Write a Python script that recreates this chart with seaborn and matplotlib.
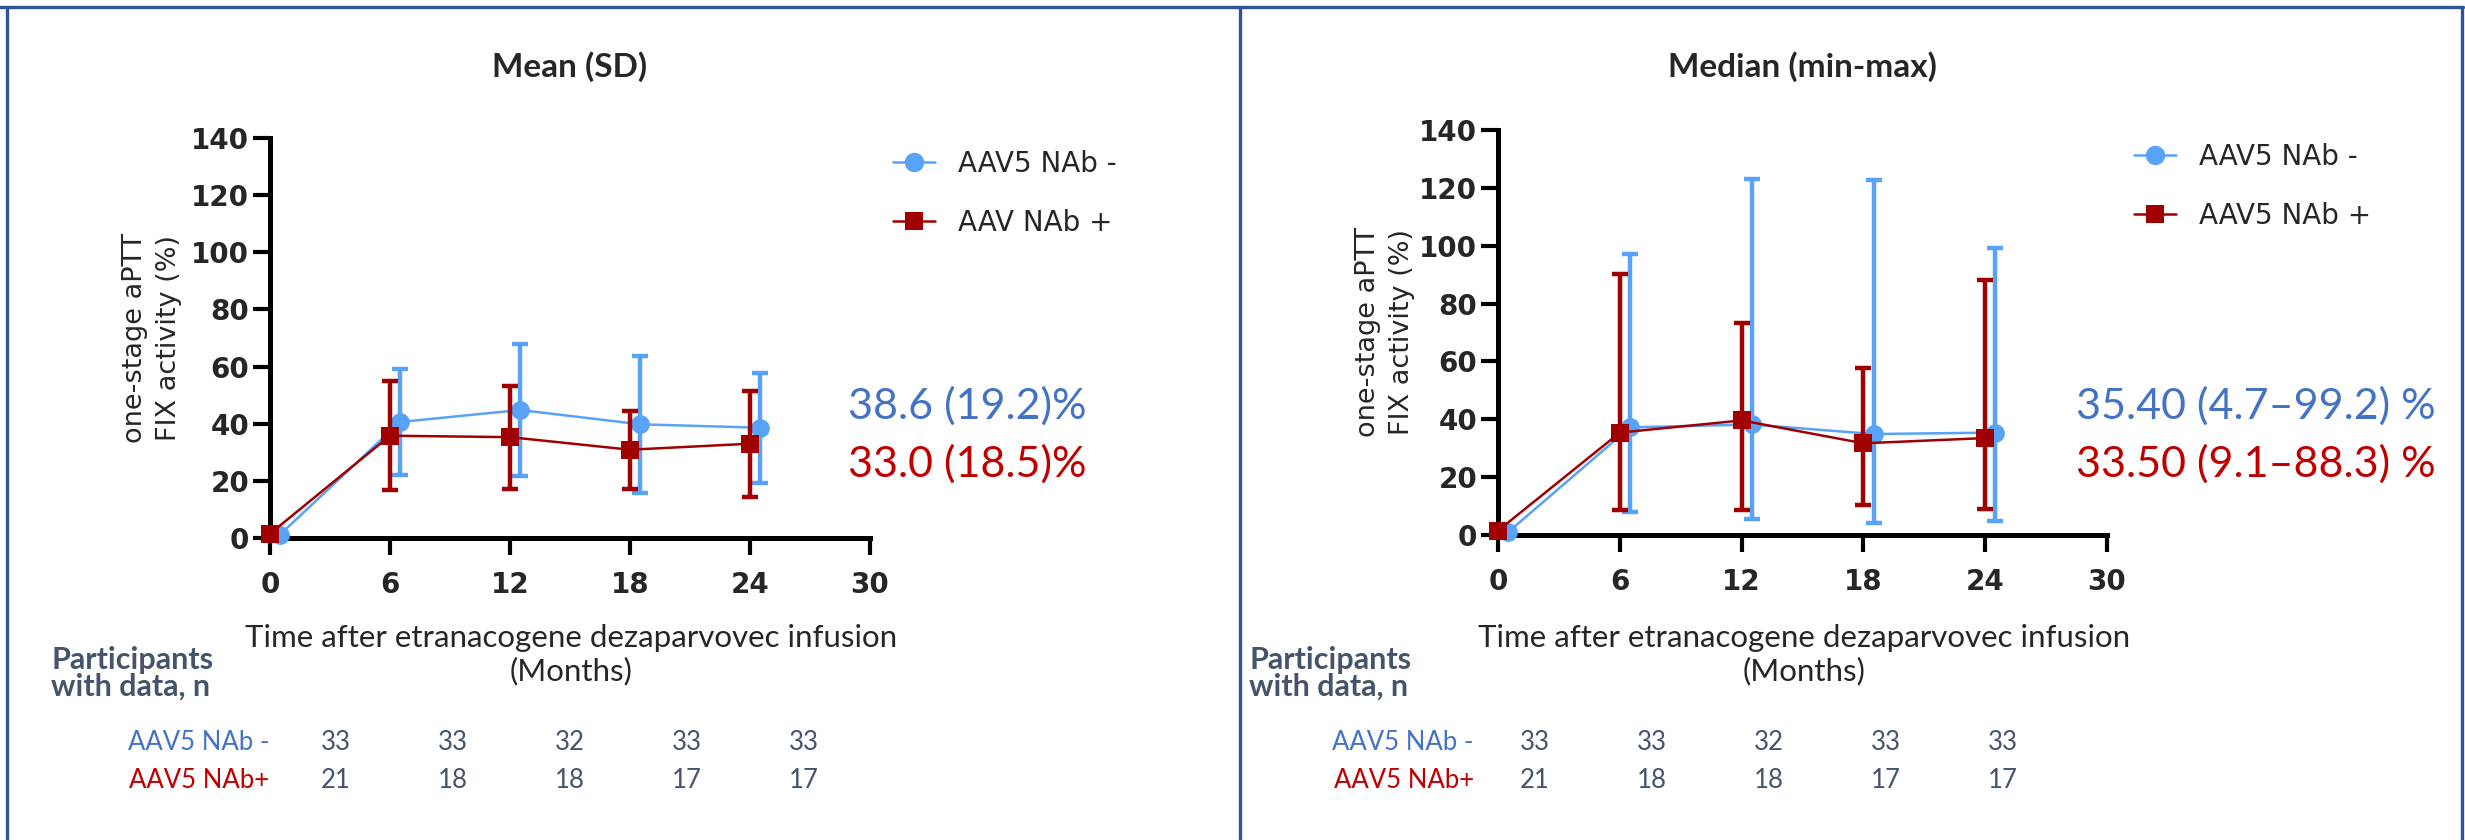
import matplotlib.pyplot as plt
import matplotlib.lines as mlines
import numpy as np
import seaborn as sns

MONTHS = [0, 6, 12, 18, 24]

# Mean (SD) panel
NEG_MEAN = [1.2, 40.6, 44.8, 39.8, 38.6]
NEG_SD = [0.0, 18.6, 23.1, 23.9, 19.2]
POS_MEAN = [1.5, 35.8, 35.3, 30.9, 33.0]
POS_SD = [0.0, 19.0, 18.0, 13.6, 18.5]

# Median (min-max) panel
NEG_MED = [1.0, 37.2, 38.2, 34.9, 35.4]
NEG_MIN = [1.0, 7.8, 5.6, 4.1, 4.7]
NEG_MAX = [1.0, 97.1, 122.9, 122.6, 99.2]
POS_MED = [1.5, 35.4, 39.6, 31.7, 33.5]
POS_MIN = [1.5, 8.6, 8.6, 10.2, 9.1]
POS_MAX = [1.5, 90.2, 73.3, 57.8, 88.3]

N_NEG = [33, 33, 32, 33, 33]
N_POS = [21, 18, 18, 17, 17]

TITLES = ["Mean (SD)", "Median (min-max)"]
LEGEND_LABELS = [["AAV5 NAb -", "AAV NAb +"], ["AAV5 NAb -", "AAV5 NAb +"]]
STAT_TEXT = [["38.6 (19.2)%", "33.0 (18.5)%"],
             ["35.40 (4.7\u201399.2) %", "33.50 (9.1\u201388.3) %"]]
ROW_LABELS = ["AAV5 NAb -", "AAV5 NAb+"]
YLABEL = "one-stage aPTT\nFIX activity (%)"
XLABEL = "Time after etranacogene dezaparvovec infusion\n(Months)"

BLUE = "#58A3F8"
RED = "#A00000"
TXT_BLUE = "#4472C4"
TXT_RED = "#C00000"
SLATE = "#44546A"
FRAME = "#2F5597"
DODGE = 0.5

W, H = 2465, 840
sns.set_style("ticks")
fig = plt.figure(figsize=(W / 100, H / 100), dpi=100)


def fx(px):
    return px / W


def fy(py):
    return 1 - py / H


def draw_panel(ax, neg, neg_lo, neg_hi, pos, pos_lo, pos_hi):
    neg = np.array(neg)
    pos = np.array(pos)
    x = np.array(MONTHS, dtype=float)
    series = [
        (x + DODGE, neg, np.array(neg_lo), np.array(neg_hi), BLUE, "o", 2),
        (x, pos, np.array(pos_lo), np.array(pos_hi), RED, "s", 4),
    ]
    for xs, y, lo, hi, color, marker, z in series:
        ax.errorbar(xs[1:], y[1:], yerr=[y[1:] - lo[1:], hi[1:] - y[1:]], fmt="none",
                    ecolor=color, elinewidth=3.2, capsize=5.5, capthick=3.2, zorder=z)
        sns.lineplot(x=xs, y=y, color=color, marker=marker, markersize=13.5,
                     markeredgewidth=0, linewidth=1.8, ax=ax, zorder=z + 1,
                     clip_on=False)

    ax.set_xlim(0, 30)
    ax.set_ylim(0, 140)
    ax.set_xticks([0, 6, 12, 18, 24, 30])
    ax.set_yticks(range(0, 141, 20))
    ax.set_xlabel("")
    ax.set_ylabel("")
    sns.despine(ax=ax)
    for side in ["left", "bottom"]:
        ax.spines[side].set_linewidth(3.6)
        ax.spines[side].set_color("black")
    ax.tick_params(axis="both", width=3, length=12, color="black")
    ax.tick_params(axis="x", pad=12)
    ax.tick_params(axis="y", pad=3)
    for lab in ax.get_xticklabels() + ax.get_yticklabels():
        lab.set_fontfamily("DejaVu Sans")
        lab.set_fontweight("bold")
        lab.set_fontsize(20)


# panel geometry in pixels: (left, top, right, bottom)
panels = [(270, 138, 870, 538), (1498, 130, 2107, 535)]
data = [
    (NEG_MEAN, [m - s for m, s in zip(NEG_MEAN, NEG_SD)], [m + s for m, s in zip(NEG_MEAN, NEG_SD)],
     POS_MEAN, [m - s for m, s in zip(POS_MEAN, POS_SD)], [m + s for m, s in zip(POS_MEAN, POS_SD)]),
    (NEG_MED, NEG_MIN, NEG_MAX, POS_MED, POS_MIN, POS_MAX),
]
title_x = [570, 1802]
ylab_x = [152, 1385]
xlab_x = [571, 1804]
part_x = [51, 1249]
row_lab_x = [269, 1474]
num_x0 = [336, 1535]
stat_x = [848, 2076]
legend_x = [893, 2134]
legend_y = [150, 143]
NUM_DX = 117

for i, (l, t, r, b) in enumerate(panels):
    ax = fig.add_axes([fx(l), fy(b), fx(r - l), (b - t) / H])
    draw_panel(ax, *data[i])

    fig.text(fx(title_x[i]), fy(67), TITLES[i], ha="center", va="center",
             fontsize=24, fontweight="bold", family="Lato")
    fig.text(fx(ylab_x[i]), fy((t + b) / 2), YLABEL, rotation=90, ha="center",
             va="center", fontsize=19.5, family="DejaVu Sans", linespacing=1.4)
    fig.text(fx(xlab_x[i]), fy(655), XLABEL, ha="center", va="center",
             fontsize=22.5, family="Lato", linespacing=1.2)
    fig.text(fx(part_x[i]), fy(673), "Participants\nwith data, n", ha="left",
             va="center", fontsize=22, fontweight="bold", family="Lato",
             color=SLATE, linespacing=0.95)

    for row, (label, counts, col) in enumerate(zip(ROW_LABELS, [N_NEG, N_POS],
                                                    [TXT_BLUE, TXT_RED])):
        yy = fy(742 + 39 * row)
        fig.text(fx(row_lab_x[i]), yy, label, ha="right", va="center",
                 fontsize=18.5, family="Lato", color=col)
        for k, n in enumerate(counts):
            fig.text(fx(num_x0[i] + NUM_DX * k), yy, str(n), ha="center",
                     va="center", fontsize=18.5, family="Lato", color=SLATE)

    for row, col in enumerate([TXT_BLUE, TXT_RED]):
        fig.text(fx(stat_x[i]), fy(406 + 58 * row), STAT_TEXT[i][row], ha="left",
                 va="center", fontsize=31, family="Lato", color=col)

    handles = [
        mlines.Line2D([], [], color=BLUE, marker="o", markersize=14, markeredgewidth=0, linewidth=1.8),
        mlines.Line2D([], [], color=RED, marker="s", markersize=13, markeredgewidth=0, linewidth=1.8),
    ]
    ax.legend(handles, LEGEND_LABELS[i], loc="upper left",
              bbox_to_anchor=(fx(legend_x[i]), fy(legend_y[i])),
              bbox_transform=fig.transFigure, frameon=False, borderpad=0,
              borderaxespad=0, handlelength=1.5, handletextpad=0.85,
              labelspacing=1.1, prop={"family": "DejaVu Sans", "size": 20})

# panel frame lines
frame_kw = dict(color=FRAME, linewidth=2.4, transform=fig.transFigure)
fig.add_artist(mlines.Line2D([0, fx(2463)], [fy(7), fy(7)], **frame_kw))
fig.add_artist(mlines.Line2D([fx(7), fx(7)], [0, fy(7)], **frame_kw))
fig.add_artist(mlines.Line2D([fx(1240), fx(1240)], [0, fy(7)], **frame_kw))
fig.add_artist(mlines.Line2D([fx(2462), fx(2462)], [0, fy(7)], **frame_kw))

fig.savefig("out.png", dpi=100)
